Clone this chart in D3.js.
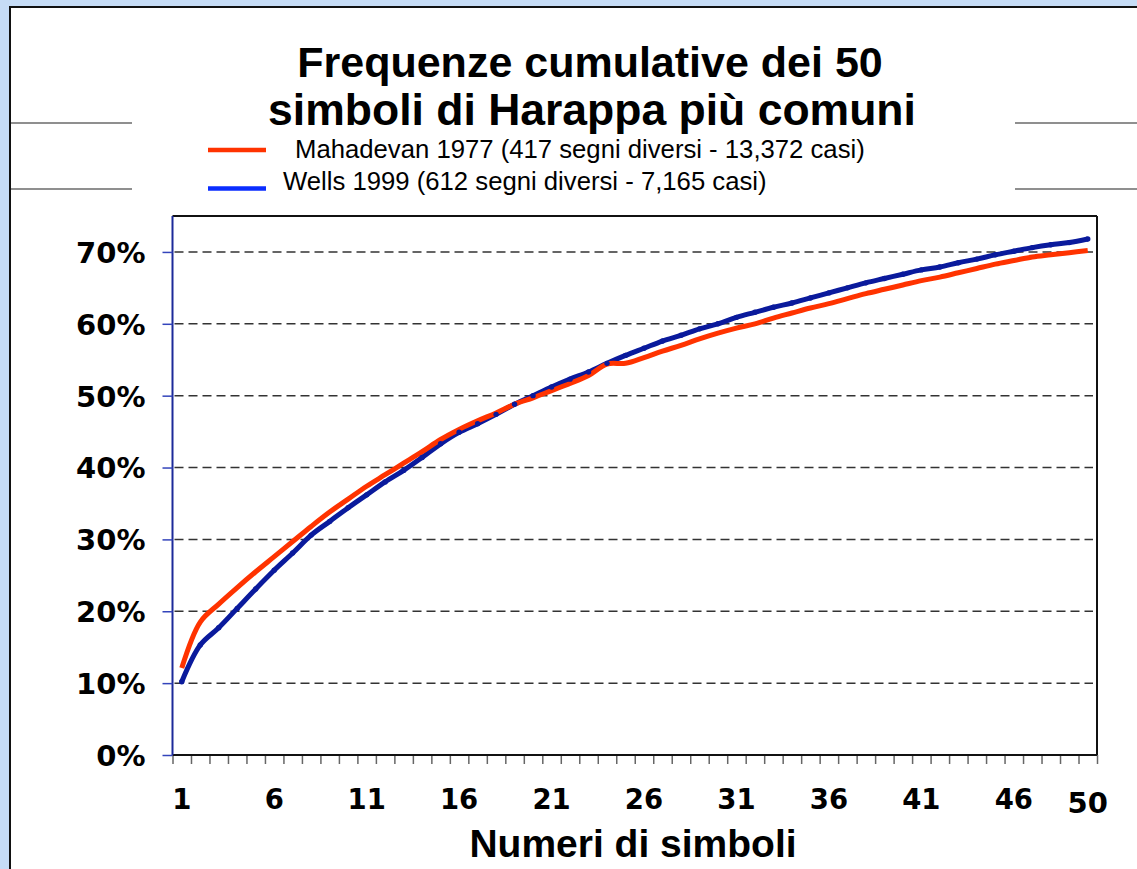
<!DOCTYPE html>
<html>
<head>
<meta charset="utf-8">
<script src="https://cdn.jsdelivr.net/npm/d3@7"></script>
<style>
  html, body { margin: 0; padding: 0; background: #c6dcf6; }
  svg { display: block; }
</style>
</head>
<body>
<svg id="chart" width="1137" height="869"></svg>
<script>
// ---- Data ----
const symbols = d3.range(1, 51);
const mahadevan = [12.1, 18.5, 21.0, 23.3, 25.5, 27.6, 29.7, 31.8, 33.8, 35.6,
  37.4, 39.0, 40.6, 42.2, 43.9, 45.3, 46.5, 47.6, 48.8, 49.7,
  50.7, 51.7, 52.8, 54.4, 54.5, 55.3, 56.2, 57.0, 57.9, 58.7,
  59.4, 60.0, 60.8, 61.5, 62.2, 62.8, 63.5, 64.2, 64.8, 65.4,
  66.0, 66.5, 67.1, 67.7, 68.3, 68.8, 69.3, 69.6, 69.9, 70.2];
const wells = [10.2, 15.3, 17.7, 20.4, 23.1, 25.7, 28.1, 30.6, 32.5, 34.4,
  36.2, 38.0, 39.6, 41.4, 43.3, 44.9, 46.1, 47.4, 48.8, 50.0,
  51.2, 52.3, 53.3, 54.5, 55.6, 56.6, 57.6, 58.4, 59.3, 60.0,
  60.9, 61.6, 62.3, 62.9, 63.6, 64.3, 65.0, 65.7, 66.3, 66.9,
  67.5, 67.9, 68.5, 69.0, 69.6, 70.1, 70.6, 71.0, 71.3, 71.8];
const xTickLabels = [1, 6, 11, 16, 21, 26, 31, 36, 41, 46, 50];
const yTickValues = [0, 10, 20, 30, 40, 50, 60, 70];
const titleLines = ["Frequenze cumulative dei 50", "simboli di Harappa più comuni"];
const legendLabels = ["Mahadevan 1977 (417 segni diversi - 13,372 casi)", "Wells 1999 (612 segni diversi - 7,165 casi)"];
const xTitle = "Numeri di simboli";

// ---- Layout ----
const svg = d3.select("#chart");
const L = 172.5, R = 1097, T = 216, B = 755;
const RED = "#ff3300", NAVY = "#0a1a9c", LEGBLUE = "#0a2dff";

// panel
svg.append("rect").attr("x", 10).attr("y", 7).attr("width", 1140).attr("height", 880)
  .attr("fill", "#fff").attr("stroke", "#111").attr("stroke-width", 2);

// decorative side lines
[123, 189].forEach(yy => {
  svg.append("line").attr("x1", 11).attr("x2", 132).attr("y1", yy).attr("y2", yy)
    .attr("stroke", "#6a6a6a").attr("stroke-width", 1.7);
  svg.append("line").attr("x1", 1015).attr("x2", 1137).attr("y1", yy).attr("y2", yy)
    .attr("stroke", "#6a6a6a").attr("stroke-width", 1.7);
});

// title
svg.append("text").attr("x", 590).attr("y", 77).attr("text-anchor", "middle")
  .attr("font-family", "Liberation Sans, Arial, sans-serif").attr("font-weight", "bold")
  .attr("font-size", 43).text(titleLines[0]);
svg.append("text").attr("x", 592).attr("y", 125).attr("text-anchor", "middle")
  .attr("font-family", "Liberation Sans, Arial, sans-serif").attr("font-weight", "bold")
  .attr("font-size", 44.5).text(titleLines[1]);

// legend
const legY = [150, 188.5];
const legX = [295, 283];
const legCol = [RED, LEGBLUE];
const legBase = [157.5, 189.5];
legendLabels.forEach((lab, i) => {
  svg.append("line").attr("x1", 208).attr("x2", 266).attr("y1", legY[i]).attr("y2", legY[i])
    .attr("stroke", legCol[i]).attr("stroke-width", 4.5);
  svg.append("text").attr("x", legX[i]).attr("y", legBase[i])
    .attr("font-family", "Liberation Sans, Arial, sans-serif")
    .attr("font-size", 25.7).attr("fill", "#000").text(lab);
});

// scales
const xBand = d3.scaleBand().domain(symbols).range([L, R]).padding(0);
const xc = d => xBand(d) + xBand.bandwidth() / 2;
const xEdge = d3.scaleLinear().domain([0.5, 50.5]).range([L, R]);
const y = d3.scaleLinear().domain([0, 75]).range([B, T]);

// gridlines
svg.append("g").selectAll("line").data(yTickValues.filter(v => v > 0)).join("line")
  .attr("x1", L + 2).attr("x2", R - 4).attr("y1", d => y(d)).attr("y2", d => y(d))
  .attr("stroke", "#333").attr("stroke-width", 1.5).attr("stroke-dasharray", "9,5");

// plot frame top/right
svg.append("line").attr("x1", L).attr("x2", R).attr("y1", T).attr("y2", T).attr("stroke", "#111").attr("stroke-width", 2);
svg.append("line").attr("x1", R).attr("x2", R).attr("y1", T).attr("y2", B).attr("stroke", "#111").attr("stroke-width", 2);

// x boundary ticks
const xTickAxis = d3.axisBottom(xEdge).tickValues(d3.range(0.5, 51, 1)).tickSize(9).tickFormat("");
const gxt = svg.append("g").attr("transform", `translate(0,${B})`).call(xTickAxis);
gxt.select(".domain").remove();
gxt.selectAll(".tick line").attr("stroke", "#666").attr("stroke-width", 1.5);

// x labels
const xLabAxis = d3.axisBottom(xBand).tickValues(xTickLabels).tickSize(0).tickPadding(0);
const gxl = svg.append("g").attr("transform", `translate(0,${B})`).call(xLabAxis);
gxl.select(".domain").remove();
gxl.selectAll(".tick text")
  .attr("font-family", "DejaVu Sans, Verdana, sans-serif").attr("font-weight", "bold")
  .attr("font-size", d => d === 50 ? 29 : 27.5).attr("fill", "#000")
  .attr("dy", null)
  .attr("y", d => d === 50 ? 58 : 54);

// bottom axis line
svg.append("line").attr("x1", L).attr("x2", R).attr("y1", B).attr("y2", B).attr("stroke", "#111").attr("stroke-width", 2);

// y axis
const yAxis = d3.axisLeft(y).tickValues(yTickValues).tickSize(10).tickPadding(17)
  .tickFormat(d => d + "%");
const gy = svg.append("g").attr("transform", `translate(${L},0)`).call(yAxis);
gy.select(".domain").attr("stroke", "#1c2a9a").attr("stroke-width", 2).attr("d", `M0,${T}V${B}`);
gy.selectAll(".tick line").attr("stroke", "#3344bb").attr("stroke-width", 1.5);
gy.selectAll(".tick text")
  .attr("font-family", "DejaVu Sans, Verdana, sans-serif").attr("font-weight", "bold")
  .attr("font-size", 29).attr("fill", "#000").attr("dy", "0.36em");

// lines
const line = d3.line().x((d, i) => xc(symbols[i])).y(d => y(d)).curve(d3.curveCatmullRom.alpha(0.5));
svg.append("path").datum(wells).attr("d", line).attr("fill", "none")
  .attr("stroke", NAVY).attr("stroke-width", 5).attr("stroke-linejoin", "round");
svg.append("path").datum(mahadevan).attr("d", line).attr("fill", "none")
  .attr("stroke", RED).attr("stroke-width", 5).attr("stroke-linejoin", "round");
svg.append("g").selectAll("circle").data(wells).join("circle")
  .attr("cx", (d, i) => xc(symbols[i])).attr("cy", d => y(d)).attr("r", 2.7).attr("fill", NAVY);

// x title
svg.append("text").attr("x", 633).attr("y", 857).attr("text-anchor", "middle")
  .attr("font-family", "Liberation Sans, Arial, sans-serif").attr("font-weight", "bold")
  .attr("font-size", 39).text(xTitle);
</script>
</body>
</html>
